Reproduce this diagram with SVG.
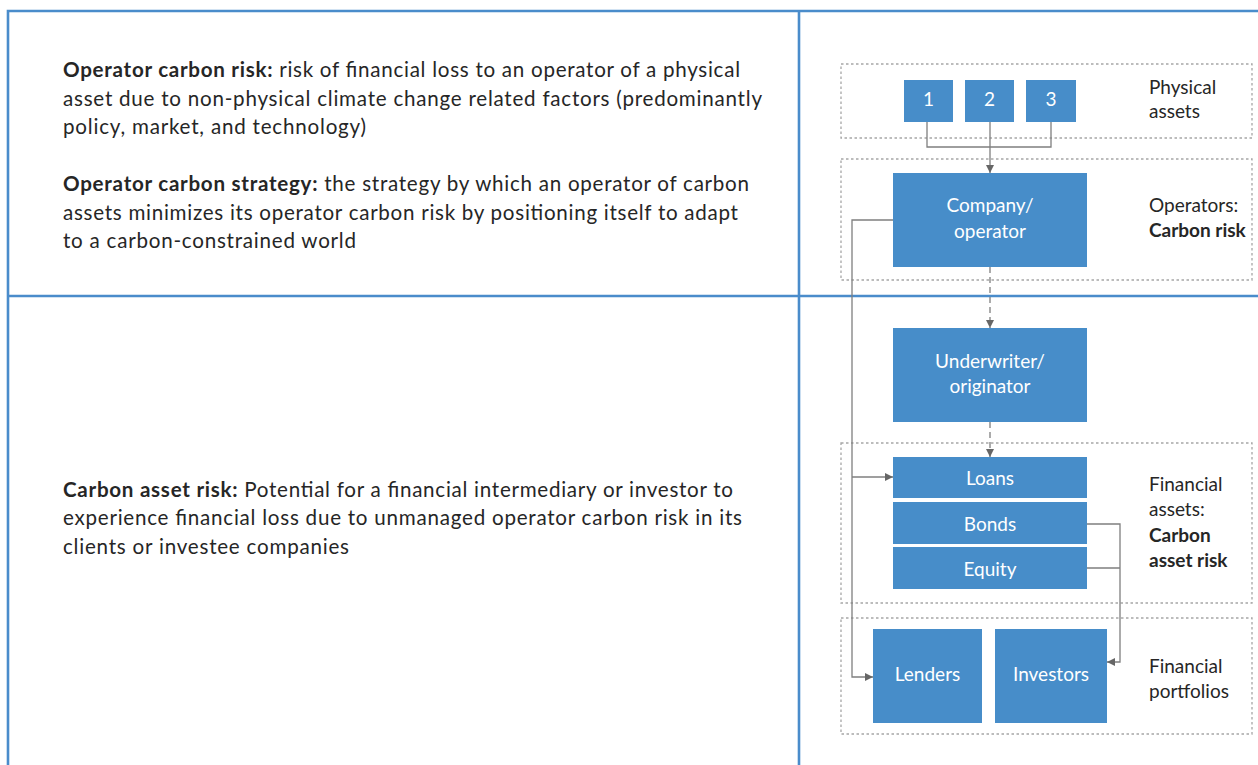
<svg xmlns="http://www.w3.org/2000/svg" width="1258" height="765" viewBox="0 0 1258 765">
<style>
.t{font-family:Lato,"Open Sans","Liberation Sans",sans-serif;font-size:20.6px;fill:#262626}
.b{font-weight:bold}
.lbl{font-family:Lato,"Open Sans","Liberation Sans",sans-serif;font-size:19px;fill:#262626}
.nt{font-family:Lato,"Open Sans","Liberation Sans",sans-serif;font-size:19px;fill:#ffffff;text-anchor:middle}
.node{fill:#478dc9}
.frame{stroke:#4a8ccb;stroke-width:2.6;fill:none}
.grp{fill:none;stroke:#a6a6a6;stroke-width:1.3;stroke-dasharray:2.5 2.5}
.c{fill:none;stroke:#7f7f7f;stroke-width:1.3}
.d{fill:none;stroke:#7f7f7f;stroke-width:1.3;stroke-dasharray:6 4}
</style>
<defs>
<marker id="ah" viewBox="0 0 10 10" refX="10" refY="5" markerWidth="8" markerHeight="8" markerUnits="userSpaceOnUse" orient="auto">
<path d="M0,0 L10,5 L0,10 z" fill="#666666"/>
</marker>
</defs>
<rect width="1258" height="765" fill="#ffffff"/>
<g id="frame">
<path class="frame" d="M8,765 V11 H1258 M8,296 H1258 M799,11 V765"/>
</g>
<g id="definitions">
<text class="t" x="63" y="77" textLength="677"><tspan class="b">Operator carbon risk:</tspan> risk of financial loss to an operator of a physical</text>
<text class="t" x="63" y="105.5" textLength="699">asset due to non-physical climate change related factors (predominantly</text>
<text class="t" x="63" y="134" textLength="303">policy, market, and technology)</text>
<text class="t" x="63" y="191" textLength="686"><tspan class="b">Operator carbon strategy:</tspan> the strategy by which an operator of carbon</text>
<text class="t" x="63" y="219.5" textLength="675">assets minimizes its operator carbon risk by positioning itself to adapt</text>
<text class="t" x="63" y="248" textLength="293">to a carbon-constrained world</text>
<text class="t" x="63" y="497" textLength="670"><tspan class="b">Carbon asset risk:</tspan> Potential for a financial intermediary or investor to</text>
<text class="t" x="63" y="525" textLength="679">experience financial loss due to unmanaged operator carbon risk in its</text>
<text class="t" x="63" y="553.5" textLength="286">clients or investee companies</text>
</g>
<g id="groups">
<rect class="grp" x="841" y="64" width="411" height="74"/>
<rect class="grp" x="841" y="159" width="411" height="121"/>
<rect class="grp" x="841" y="443" width="411" height="160"/>
<rect class="grp" x="841" y="618" width="411" height="116"/>
<text class="lbl" x="1149" y="94">Physical</text>
<text class="lbl" x="1149" y="118">assets</text>
<text class="lbl" x="1149" y="212">Operators:</text>
<text class="lbl b" x="1149" y="237">Carbon risk</text>
<text class="lbl" x="1149" y="491">Financial</text>
<text class="lbl" x="1149" y="516">assets:</text>
<text class="lbl b" x="1149" y="541.5">Carbon</text>
<text class="lbl b" x="1149" y="566.5">asset risk</text>
<text class="lbl" x="1149" y="673">Financial</text>
<text class="lbl" x="1149" y="698">portfolios</text>
</g>
<g id="connectors">
<path class="c" d="M927,122 V147 H1051 V122"/>
<path class="c" d="M990,122 V173" marker-end="url(#ah)"/>
<path class="d" d="M990,267 V328" marker-end="url(#ah)"/>
<path class="d" d="M990,422 V457" marker-end="url(#ah)"/>
<path class="c" d="M893,220 H852 V677 H873" marker-end="url(#ah)"/>
<path class="c" d="M852,477 H893" marker-end="url(#ah)"/>
<path class="c" d="M1087,524 H1120 V568 H1087 M1120,568 V662 H1107" marker-end="url(#ah)"/>
</g>
<g id="node-1"><rect class="node" x="904" y="80" width="49" height="42"/><text class="nt" x="928.5" y="106">1</text></g>
<g id="node-2"><rect class="node" x="965" y="80" width="49" height="42"/><text class="nt" x="989.5" y="106">2</text></g>
<g id="node-3"><rect class="node" x="1026" y="80" width="50" height="42"/><text class="nt" x="1051" y="106">3</text></g>
<g id="node-company"><rect class="node" x="893" y="173" width="194" height="94"/><text class="nt" x="990" y="212">Company/</text><text class="nt" x="990" y="237.5">operator</text></g>
<g id="node-underwriter"><rect class="node" x="893" y="328" width="194" height="94"/><text class="nt" x="990" y="368">Underwriter/</text><text class="nt" x="990" y="393">originator</text></g>
<g id="node-loans"><rect class="node" x="893" y="457" width="194" height="41"/><text class="nt" x="990" y="485">Loans</text></g>
<g id="node-bonds"><rect class="node" x="893" y="502" width="194" height="42"/><text class="nt" x="990" y="531">Bonds</text></g>
<g id="node-equity"><rect class="node" x="893" y="547" width="194" height="42"/><text class="nt" x="990" y="576">Equity</text></g>
<g id="node-lenders"><rect class="node" x="873" y="629" width="109" height="94"/><text class="nt" x="927.5" y="681">Lenders</text></g>
<g id="node-investors"><rect class="node" x="995" y="629" width="112" height="94"/><text class="nt" x="1051" y="681">Investors</text></g>
</svg>
